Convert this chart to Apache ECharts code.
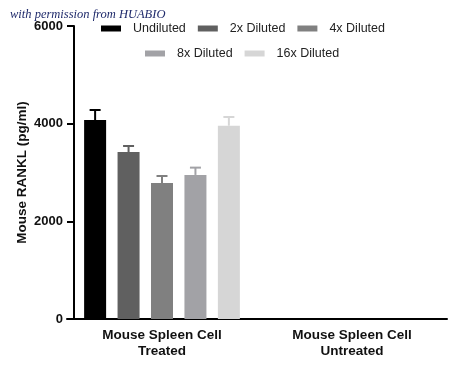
<!DOCTYPE html>
<html><head><meta charset="utf-8">
<script src="https://cdn.jsdelivr.net/npm/echarts@6/dist/echarts.min.js"></script>
<style>html,body{margin:0;padding:0;background:#fff}#c{width:450px;height:369px}</style>
</head><body><div id="c"></div>
<script>
const categories = ['Mouse Spleen Cell\nTreated', 'Mouse Spleen Cell\nUntreated'];
const seriesNames = ['Undiluted', '2x Diluted', '4x Diluted', '8x Diluted', '16x Diluted'];
const means = [
  [4075, null],
  [3420, null],
  [2785, null],
  [2950, null],
  [3958, null]
];
const errors = [
  [205, null],
  [123, null],
  [143, null],
  [150, null],
  [179, null]
];
const yTicks = [0, 2000, 4000, 6000];
const colors = ['#000000', '#606060', '#808080', '#a2a2a6', '#d6d6d6'];

const BAR_W = 22, GAP = 0.52;
const chart = echarts.init(document.getElementById('c'));
const series = [];
seriesNames.forEach((name, i) => {
  series.push({
    name, type: 'bar', data: means[i].map(v => v == null ? '-' : v),
    barWidth: BAR_W, barGap: (GAP * 100) + '%',
    itemStyle: { color: colors[i] }, z: 2
  });
});
seriesNames.forEach((name, i) => {
  series.push({
    type: 'custom', name: name + '_err', silent: true, z: 3,
    data: means[i].map((m, k) => m == null ? null : [k, m, m + errors[i][k]]).filter(d => d),
    renderItem: (params, api) => {
      const c0 = api.coord([api.value(0), api.value(1)]);
      const c1 = api.coord([api.value(0), api.value(2)]);
      const off = (i - (seriesNames.length - 1) / 2) * BAR_W * (1 + GAP);
      const x = c0[0] + off;
      const half = 5.5;
      const st = { stroke: colors[i], lineWidth: 2 };
      return { type: 'group', children: [
        { type: 'line', shape: { x1: x, y1: c0[1], x2: x, y2: c1[1] }, style: st },
        { type: 'line', shape: { x1: x - half, y1: c1[1], x2: x + half, y2: c1[1] }, style: st }
      ]};
    }
  });
});
const legendCommon = {
  itemWidth: 20, itemHeight: 6, icon: 'rect',
  textStyle: { fontFamily: 'Liberation Sans, Arial', fontSize: 12.5, color: '#222', padding: [0, 0, 0, 7] }
};
chart.setOption({
  animation: false,
  textStyle: { fontFamily: 'Liberation Sans, Arial' },
  graphic: [{
    type: 'text', left: 10, top: 8,
    style: { text: 'with permission from HUABIO', font: 'italic 12.5px "Liberation Serif", serif', fill: '#1f2a6b' }
  }],
  legend: [
    Object.assign({ data: seriesNames.slice(0, 3), left: 96, top: 17, itemGap: 12 }, legendCommon),
    Object.assign({ data: seriesNames.slice(3), left: 140, top: 42, itemGap: 12 }, legendCommon)
  ],
  grid: { left: 67, right: 3, top: 26, bottom: 50 },
  xAxis: {
    type: 'category', data: categories,
    axisLine: { lineStyle: { color: '#000', width: 2 } },
    axisTick: { alignWithLabel: true, length: 3, lineStyle: { color: '#000', width: 2 } },
    axisLabel: { color: '#111', fontWeight: 'bold', fontSize: 13.5, margin: 8, lineHeight: 16 }
  },
  yAxis: {
    type: 'value', min: 0, max: 6000, interval: 2000, offset: -7,
    name: 'Mouse RANKL (pg/ml)', nameLocation: 'middle', nameGap: 45, nameMoveOverlap: false,
    nameTextStyle: { fontWeight: 'bold', fontSize: 13.5, color: '#111' },
    splitLine: { show: false },
    axisLine: { show: true, lineStyle: { color: '#000', width: 2 } },
    axisTick: { show: true, length: 7, lineStyle: { color: '#000', width: 2 } },
    axisLabel: { color: '#111', fontWeight: 'bold', fontSize: 13, margin: 11,
      formatter: v => yTicks.includes(v) ? String(v) : '' }
  },
  series
});
</script></body></html>
